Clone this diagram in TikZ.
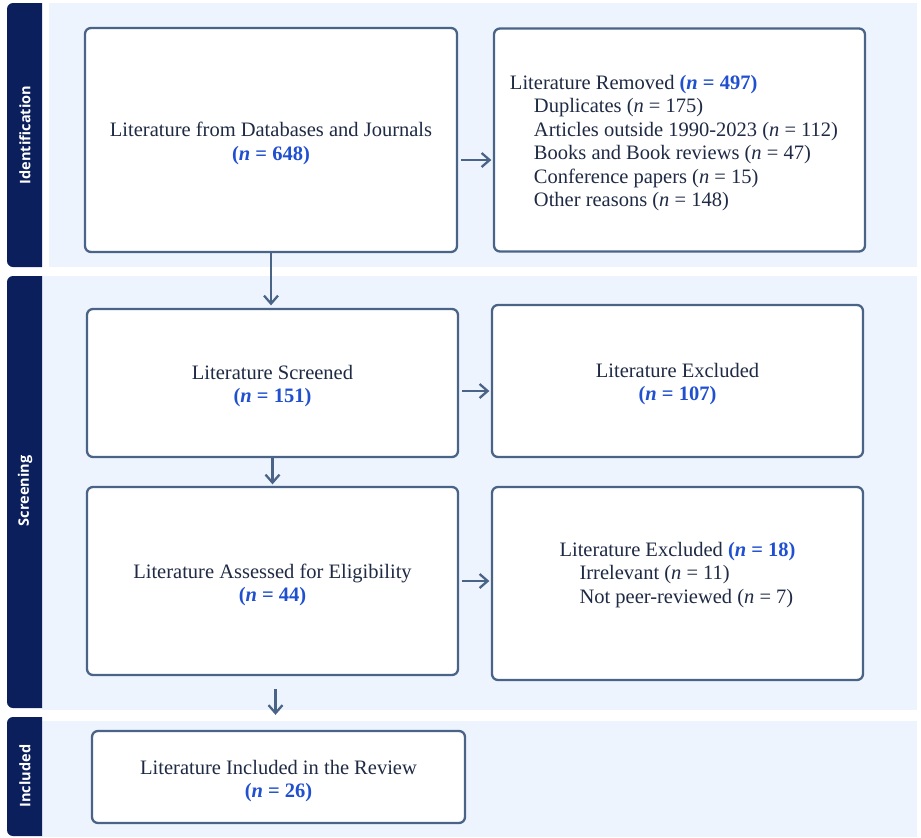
\documentclass[tikz,border=0pt]{standalone}
\usepackage{fontspec}
\setmainfont{Liberation Serif}
\newfontfamily\sidefont{Open Sans}
\usetikzlibrary{arrows.meta}
\definecolor{navy}{HTML}{0A1F5C}
\definecolor{band}{HTML}{EEF4FD}
\definecolor{edge}{HTML}{4A6488}
\definecolor{nblue}{HTML}{2050D0}
\definecolor{ink}{HTML}{1F2A44}
\newcommand{\nb}[1]{\textcolor{nblue}{\textbf{(\textit{n} = #1)}}}
\newcommand{\nr}[1]{(\textit{n} = #1)}
\begin{document}
\begin{tikzpicture}[x=1pt,y=-1pt,
  box/.style={draw=edge,line width=2.3pt,rounded corners=6pt,fill=white,inner sep=0pt},
  txt/.style={text=ink,font=\fontsize{20.5}{23.5}\selectfont,align=center,inner sep=0pt},
  conn/.style={draw=edge,line width=2.3pt,-{Straight Barb[length=8pt,width=14pt,line width=2.3pt]}},
  sidelab/.style={text=white,font=\sidefont\bfseries\fontsize{14.5}{16}\selectfont,rotate=90}
]
\useasboundingbox (0,0) rectangle (921,838);
% bands
\fill[band] (49,3) rectangle (917,267);
\fill[band] (42,276) rectangle (917,710);
\fill[band] (42,721) rectangle (917,837);
% side bars
\fill[navy] (7,3) [rounded corners=6pt] -- (7,267) [sharp corners] -- (42,267) -- (42,3) [rounded corners=6pt] -- cycle;
\fill[navy,rounded corners=6pt] (7,276) -- (7,708) [sharp corners] -- (42,708) -- (42,276) [rounded corners=6pt] -- cycle;
\fill[navy,rounded corners=6pt] (7,717) -- (7,836) [sharp corners] -- (42,836) -- (42,717) [rounded corners=6pt] -- cycle;
\node[sidelab] (lid) at (25,135) {Identification};
\node[sidelab] (lsc) at (25,491) {Screening};
\node[sidelab] (lin) at (25,776) {Included};
% boxes
\node[box,minimum width=372pt,minimum height=224pt] (A) at (271,140) {};
\node[txt] (At) at ([yshift=-3.5pt]A.center)
  {Literature from Databases and Journals\\ \nb{648}};
\node[box,minimum width=371pt,minimum height=223pt] (B) at (679.5,140) {};
\node[txt,align=left] (Bt) at (674,143)
  {Literature Removed \nb{497}\\
   \hspace*{24pt}Duplicates \nr{175}\\
   \hspace*{24pt}Articles outside 1990-2023 \nr{112}\\
   \hspace*{24pt}Books and Book reviews \nr{47}\\
   \hspace*{24pt}Conference papers \nr{15}\\
   \hspace*{24pt}Other reasons \nr{148}};
\node[box,minimum width=371pt,minimum height=148pt] (C) at (272.5,383) {};
\node[txt] (Ct) at ([yshift=-3pt]C.center) {Literature Screened\\ \nb{151}};
\node[box,minimum width=371pt,minimum height=152pt] (D) at (677.5,381) {};
\node[txt] (Dt) at ([yshift=-3pt]D.center) {Literature Excluded\\ \nb{107}};
\node[box,minimum width=371pt,minimum height=188pt] (E) at (272.5,581) {};
\node[txt] (Et) at ([yshift=-4pt]E.center) {Literature Assessed for Eligibility\\ \nb{44}};
\node[box,minimum width=371pt,minimum height=193pt] (F) at (677.5,583.5) {};
\node[txt,align=left] (Ft) at (677.5,575)
  {Literature Excluded \nb{18}\\
   \hspace*{20pt}Irrelevant \nr{11}\\
   \hspace*{20pt}Not peer-reviewed \nr{7}};
\node[box,minimum width=373pt,minimum height=92pt] (G) at (278.5,777) {};
\node[txt] (Gt) at ([yshift=-4pt]G.center) {Literature Included in the Review\\ \nb{26}};
% connectors
\draw[conn,shorten <=3pt,shorten >=1.5pt] ([yshift=-20pt]A.east) -- ([yshift=-20pt]A.east -| B.west);
\draw[conn,shorten >=2.5pt] (A.south) -- (A.south |- C.north);
\draw[conn,shorten <=3pt,shorten >=1.5pt] ([yshift=-8pt]C.east) -- ([yshift=-8pt]C.east -| D.west);
\draw[conn,shorten >=1.5pt] (C.south) -- (C.south |- E.north);
\draw[conn,shorten <=3pt,shorten >=1.5pt] (E.east) -- (E.east -| F.west);
\draw[conn,shorten <=13pt,shorten >=15pt] ([xshift=3pt]E.south) -- ([xshift=3pt]E.south |- G.north);
\end{tikzpicture}
\end{document}
